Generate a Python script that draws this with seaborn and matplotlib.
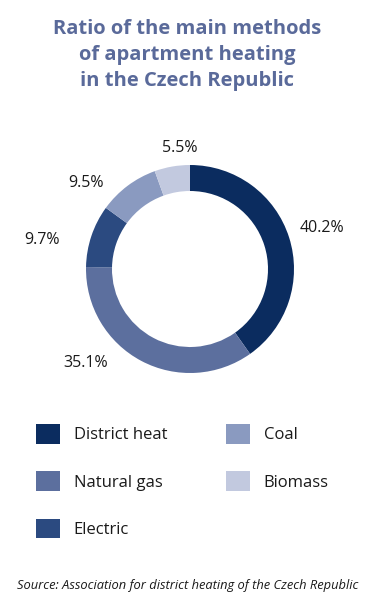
import matplotlib
matplotlib.use("Agg")
import matplotlib.pyplot as plt
from matplotlib.patches import Patch
import seaborn as sns

# data
categories = ["District heat", "Natural gas", "Electric", "Coal", "Biomass"]
shares = [40.2, 35.1, 9.7, 9.5, 5.5]
colors = ["#0b2c5f", "#5c6f9e", "#2b4a80", "#8a9ac0", "#c2c9df"]
# label anchor offsets (in units of outer radius)
label_pos = [(1.27, 0.39), (-1.0, -0.90), (-1.42, 0.28), (-1.0, 0.83), (-0.10, 1.16)]

sns.set_theme(style="white")
plt.rcParams["font.family"] = ["Open Sans", "DejaVu Sans"]

W, H = 375, 602
fig = plt.figure(figsize=(W / 100, H / 100), dpi=100)
fig.patch.set_facecolor("white")

# donut: center (190, 269) px, radius 104 px
r_px = 104
half = 1.25
size = 2 * half * r_px
cx, cy = 190, 269
ax = fig.add_axes([(cx - size / 2) / W, 1 - (cy + size / 2) / H, size / W, size / H])
palette = sns.color_palette(colors)
ax.pie(shares, colors=palette, startangle=90, counterclock=False, radius=1.0,
       wedgeprops=dict(width=0.25, edgecolor="none"))
ax.set_xlim(-half, half)
ax.set_ylim(-half, half)
ax.set_aspect("equal")
ax.axis("off")

for v, (lx, ly) in zip(shares, label_pos):
    ax.text(lx, ly, f"{v:.1f}%", ha="center", va="center", fontsize=11.5,
            color="#1a1a1a", clip_on=False)

fig.text(0.5, 1 - 55 / H, "Ratio of the main methods\nof apartment heating\nin the Czech Republic",
         ha="center", va="center", fontsize=14.5, fontweight="bold", color="#5a6a9a",
         linespacing=1.4)

handles = [Patch(facecolor=c, edgecolor="none") for c in palette]
fig.legend(handles, categories, loc="upper left", bbox_to_anchor=(36 / W, 1 - 424 / H),
           ncol=2, frameon=False, fontsize=12, handlelength=1.45, handleheight=1.45,
           handletextpad=0.8, labelspacing=1.65, columnspacing=3.55, borderpad=0,
           borderaxespad=0, labelcolor="#1a1a1a")

fig.text(0.5, 1 - 586 / H, "Source: Association for district heating of the Czech Republic",
         ha="center", va="center", fontsize=9.3, style="italic", color="#1a1a1a")

fig.savefig("out.png", dpi=100)
